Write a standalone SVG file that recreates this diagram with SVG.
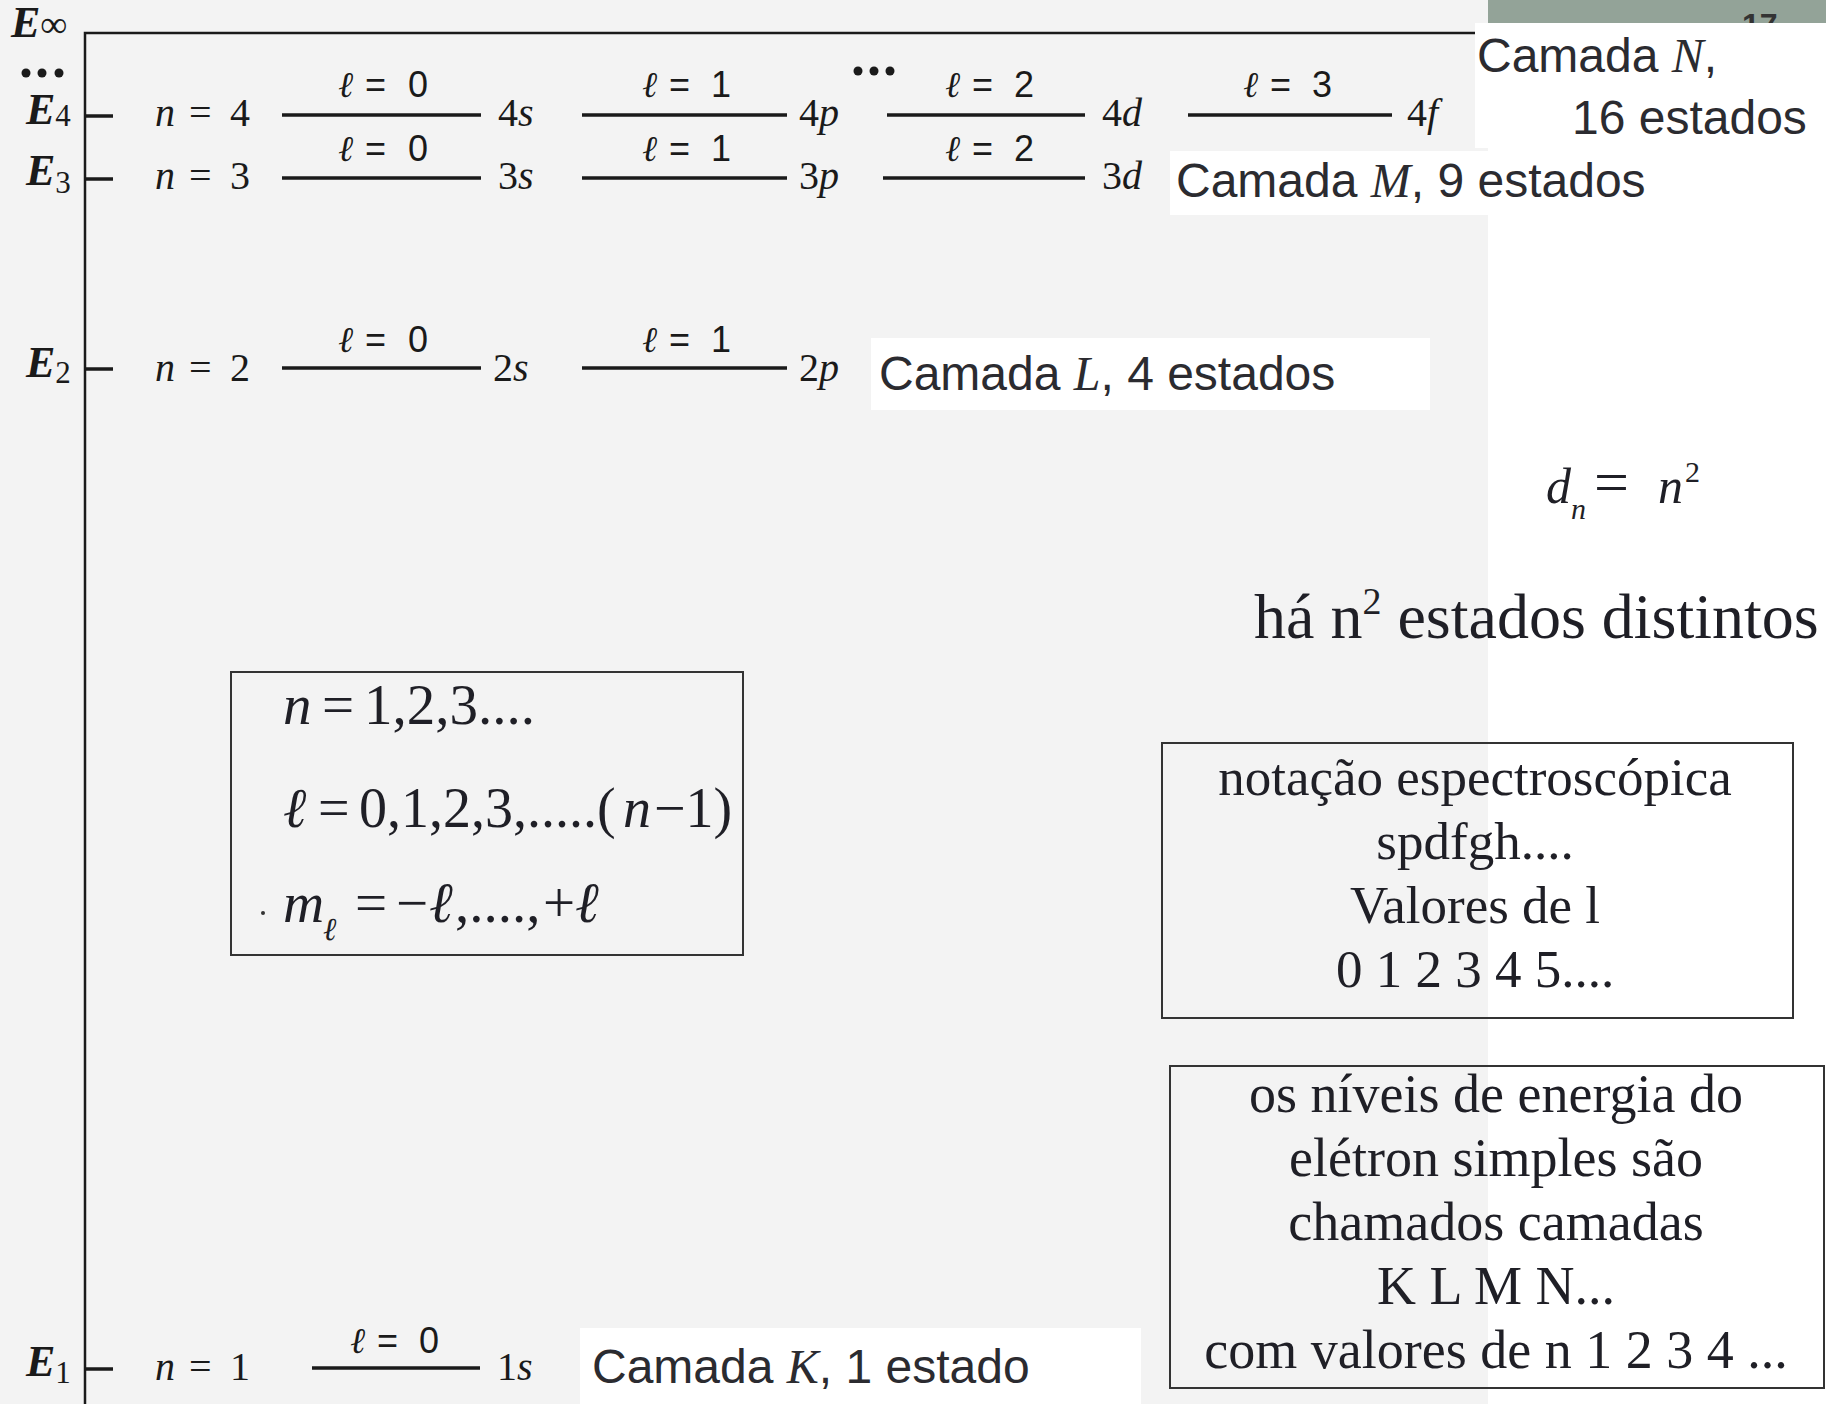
<svg xmlns="http://www.w3.org/2000/svg" width="1826" height="1404" viewBox="0 0 1826 1404">
<style>
.bk{font-family:"Liberation Serif",serif;fill:#1a1a1a}
.E{font-family:"Liberation Serif",serif;font-style:italic;font-weight:bold;font-size:44px;fill:#1a1a1a}
.sub{font-style:normal;font-weight:normal;font-size:31px}
.nl{font-family:"Liberation Serif",serif;font-size:40px;fill:#1a1a1a}
.it{font-style:italic}
.el{font-family:"Liberation Sans",sans-serif;font-size:36px;fill:#1a1a1a}
.cam{font-family:"Liberation Sans",sans-serif;font-size:48px;fill:#2b2b30}
.cam .v{font-family:"Liberation Serif",serif;font-style:italic}
.tm{font-family:"Liberation Serif",serif;fill:#1f1f26}
.lvl{stroke:#1a1a1a;stroke-width:3.5}
.ax{stroke:#1a1a1a;stroke-width:2.5;fill:none}
.box{fill:none;stroke:#333;stroke-width:2}
.wb{fill:#ffffff}
</style>
<rect x="0" y="0" width="1826" height="1404" fill="#ffffff"/>
<rect x="0" y="0" width="1488" height="1404" fill="#f3f3f3"/>
<rect x="1488" y="0" width="338" height="23" fill="#93a398"/>
<text x="1742" y="36" font-family="Liberation Sans,sans-serif" font-weight="bold" font-size="32" fill="#333">17</text>

<g id="axis">
<path class="ax" d="M85,1404 V33 H1476"/>
<text class="E" x="11" y="37">E<tspan font-weight="normal" font-style="normal" font-size="38">∞</tspan></text>
<circle cx="26" cy="73" r="4.5" fill="#1a1a1a"/><circle cx="42" cy="73" r="4.5" fill="#1a1a1a"/><circle cx="59" cy="73" r="4.5" fill="#1a1a1a"/>
<circle cx="858" cy="71" r="4.5" fill="#1a1a1a"/><circle cx="874" cy="71" r="4.5" fill="#1a1a1a"/><circle cx="890" cy="71" r="4.5" fill="#1a1a1a"/>
</g>

<g id="level4">
<text class="E" x="26" y="124">E<tspan class="sub" dy="2">4</tspan></text>
<line class="lvl" x1="85" y1="116" x2="113" y2="116"/>
<text class="nl"><tspan class="it" x="155" y="126">n</tspan><tspan x="189" y="126">=</tspan><tspan x="230" y="126">4</tspan></text>
<line class="lvl" x1="282" y1="115" x2="481" y2="115"/>
<text class="el"><tspan class="bk it" x="338" y="97">ℓ</tspan><tspan x="365" y="97">=</tspan><tspan x="408" y="97">0</tspan></text>
<text class="nl" x="498" y="126">4<tspan class="it">s</tspan></text>
<line class="lvl" x1="582" y1="115" x2="787" y2="115"/>
<text class="el"><tspan class="bk it" x="642" y="97">ℓ</tspan><tspan x="669" y="97">=</tspan><tspan x="711" y="97">1</tspan></text>
<text class="nl" x="799" y="126">4<tspan class="it">p</tspan></text>
<line class="lvl" x1="887" y1="115" x2="1085" y2="115"/>
<text class="el"><tspan class="bk it" x="945" y="97">ℓ</tspan><tspan x="972" y="97">=</tspan><tspan x="1014" y="97">2</tspan></text>
<text class="nl" x="1102" y="126">4<tspan class="it">d</tspan></text>
<line class="lvl" x1="1188" y1="115" x2="1392" y2="115"/>
<text class="el"><tspan class="bk it" x="1243" y="97">ℓ</tspan><tspan x="1270" y="97">=</tspan><tspan x="1312" y="97">3</tspan></text>
<text class="nl" x="1407" y="126">4<tspan class="it">f</tspan></text>
</g>

<g id="level3">
<text class="E" x="26" y="185">E<tspan class="sub" dy="8">3</tspan></text>
<line class="lvl" x1="85" y1="179" x2="113" y2="179"/>
<text class="nl"><tspan class="it" x="155" y="189">n</tspan><tspan x="189" y="189">=</tspan><tspan x="230" y="189">3</tspan></text>
<line class="lvl" x1="282" y1="178" x2="481" y2="178"/>
<text class="el"><tspan class="bk it" x="338" y="161">ℓ</tspan><tspan x="365" y="161">=</tspan><tspan x="408" y="161">0</tspan></text>
<text class="nl" x="498" y="189">3<tspan class="it">s</tspan></text>
<line class="lvl" x1="582" y1="178" x2="787" y2="178"/>
<text class="el"><tspan class="bk it" x="642" y="161">ℓ</tspan><tspan x="669" y="161">=</tspan><tspan x="711" y="161">1</tspan></text>
<text class="nl" x="799" y="189">3<tspan class="it">p</tspan></text>
<line class="lvl" x1="883" y1="178" x2="1085" y2="178"/>
<text class="el"><tspan class="bk it" x="945" y="161">ℓ</tspan><tspan x="972" y="161">=</tspan><tspan x="1014" y="161">2</tspan></text>
<text class="nl" x="1102" y="189">3<tspan class="it">d</tspan></text>
</g>

<g id="level2">
<text class="E" x="26" y="377">E<tspan class="sub" dy="6">2</tspan></text>
<line class="lvl" x1="85" y1="369" x2="113" y2="369"/>
<text class="nl"><tspan class="it" x="155" y="381">n</tspan><tspan x="189" y="381">=</tspan><tspan x="230" y="381">2</tspan></text>
<line class="lvl" x1="282" y1="368" x2="481" y2="368"/>
<text class="el"><tspan class="bk it" x="338" y="352">ℓ</tspan><tspan x="365" y="352">=</tspan><tspan x="408" y="352">0</tspan></text>
<text class="nl" x="493" y="381">2<tspan class="it">s</tspan></text>
<line class="lvl" x1="582" y1="368" x2="787" y2="368"/>
<text class="el"><tspan class="bk it" x="642" y="352">ℓ</tspan><tspan x="669" y="352">=</tspan><tspan x="711" y="352">1</tspan></text>
<text class="nl" x="799" y="381">2<tspan class="it">p</tspan></text>
</g>

<g id="level1">
<text class="E" x="26" y="1376">E<tspan class="sub" dy="7">1</tspan></text>
<line class="lvl" x1="85" y1="1369" x2="113" y2="1369"/>
<text class="nl"><tspan class="it" x="155" y="1380">n</tspan><tspan x="189" y="1380">=</tspan><tspan x="230" y="1380">1</tspan></text>
<line class="lvl" x1="312" y1="1368" x2="480" y2="1368"/>
<text class="el"><tspan class="bk it" x="350" y="1353">ℓ</tspan><tspan x="377" y="1353">=</tspan><tspan x="419" y="1353">0</tspan></text>
<text class="nl" x="497" y="1380">1<tspan class="it">s</tspan></text>
</g>

<g id="camadaN">
<rect class="wb" x="1475" y="23" width="351" height="125"/>
<text class="cam" x="1477" y="72">Camada <tspan class="v">N</tspan>,</text>
<text class="cam" x="1572" y="134">16 estados</text>
</g>
<g id="camadaM">
<rect class="wb" x="1170" y="151" width="318" height="64"/>
<text class="cam" x="1176" y="197">Camada <tspan class="v">M</tspan>, 9 estados</text>
</g>
<g id="camadaL">
<rect class="wb" x="871" y="338" width="559" height="72"/>
<text class="cam" x="879" y="390">Camada <tspan class="v">L</tspan>, 4 estados</text>
</g>
<g id="camadaK">
<rect class="wb" x="580" y="1328" width="561" height="76"/>
<text class="cam" x="592" y="1383">Camada <tspan class="v">K</tspan>, 1 estado</text>
</g>

<g id="quantum-numbers">
<rect class="box" x="231" y="672" width="512" height="283"/>
<text class="tm" font-size="57"><tspan class="it" x="283" y="724">n</tspan><tspan x="322" y="724">=</tspan><tspan x="364" y="724">1,2,3....</tspan></text>
<text class="tm" font-size="56"><tspan class="it" x="283" y="827">ℓ</tspan><tspan x="318" y="827">=</tspan><tspan x="359" y="827">0,1,2,3,.....(</tspan><tspan class="it" x="623" y="827">n</tspan><tspan x="654" y="827">−1)</tspan></text>
<text class="tm" font-size="57"><tspan class="it" x="283" y="922">m</tspan><tspan class="it" font-size="32" x="323" y="940">ℓ</tspan><tspan x="355" y="922">=</tspan><tspan x="396" y="922">−</tspan><tspan class="it" x="429" y="922">ℓ</tspan><tspan x="455" y="922">,....,</tspan><tspan x="543" y="922">+</tspan><tspan class="it" x="575" y="922">ℓ</tspan></text>
<circle cx="263" cy="913" r="2" fill="#333"/>
</g>

<g id="degeneracy">
<text class="tm" font-size="50"><tspan class="it" x="1546" y="503">d</tspan><tspan class="it" font-size="30" x="1571" y="519">n</tspan><tspan x="1594" y="503" font-size="62">=</tspan><tspan class="it" x="1658" y="503">n</tspan><tspan font-size="30" x="1685" y="482">2</tspan></text>
<text class="tm" font-size="64" x="1254" y="638">há n<tspan font-size="38" dy="-24">2</tspan><tspan dy="24"> estados distintos</tspan></text>
</g>

<g id="notation">
<rect class="box" x="1162" y="743" width="631" height="275"/>
<text class="tm" font-size="53" text-anchor="middle"><tspan x="1475" y="795">notação espectroscópica</tspan><tspan x="1475" y="859">spdfgh....</tspan><tspan x="1475" y="923">Valores de l</tspan><tspan x="1475" y="987">0 1 2 3 4 5....</tspan></text>
</g>

<g id="shells">
<rect class="box" x="1170" y="1066" width="654" height="322"/>
<text class="tm" font-size="54" text-anchor="middle"><tspan x="1496" y="1112">os níveis de energia do</tspan><tspan x="1496" y="1176">elétron simples são</tspan><tspan x="1496" y="1240">chamados camadas</tspan><tspan x="1496" y="1304">K L M N...</tspan><tspan x="1496" y="1368">com valores de n 1 2 3 4 ...</tspan></text>
</g>
</svg>
